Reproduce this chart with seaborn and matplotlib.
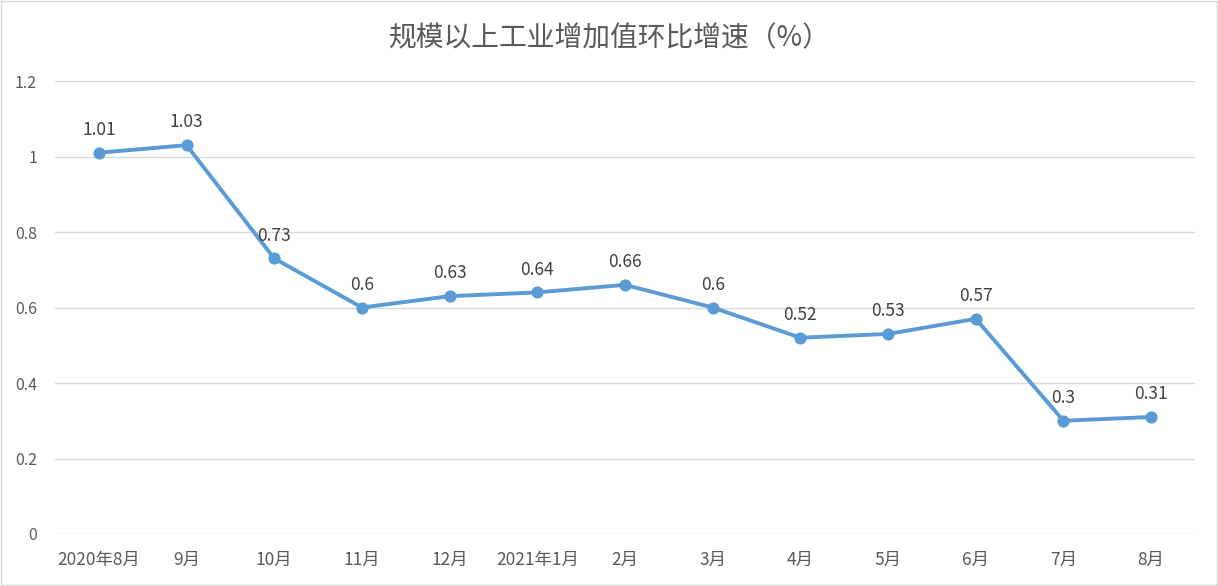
import matplotlib
matplotlib.use("Agg")
import matplotlib.pyplot as plt
import seaborn as sns
import pandas as pd

months = ["2020年8月", "9月", "10月", "11月", "12月", "2021年1月", "2月", "3月", "4月", "5月", "6月", "7月", "8月"]
values = [1.01, 1.03, 0.73, 0.6, 0.63, 0.64, 0.66, 0.6, 0.52, 0.53, 0.57, 0.3, 0.31]
yticks = [0, 0.2, 0.4, 0.6, 0.8, 1.0, 1.2]
ytick_labels = ["0", "0.2", "0.4", "0.6", "0.8", "1", "1.2"]
title = "规模以上工业增加值环比增速（%）"

sns.set_style("white")
plt.rcParams['font.family'] = ['Noto Sans CJK SC', 'DejaVu Sans']

df = pd.DataFrame({"x": range(len(months)), "v": values})

fig = plt.figure(figsize=(12.18, 5.86), dpi=100)
ax = fig.add_axes([55/1218, 1 - 534/586, (1195-55)/1218, (534-81)/586])

line_color = "#5B9BD5"
sns.lineplot(data=df, x="x", y="v", ax=ax, color=line_color, linewidth=2.8,
             marker="o", markersize=8, markeredgecolor=line_color, zorder=3)

for i, v in enumerate(values):
    txt = f"{v:g}"
    ax.annotate(txt, (i, v), xytext=(0, 10), textcoords="offset points",
                ha="center", va="bottom", fontsize=12.5, color="#404040")

ax.set_xlim(-0.5, len(months) - 0.5)
ax.set_ylim(0, 1.2)
ax.set_yticks(yticks)
ax.set_yticklabels(ytick_labels, fontsize=11.5, color="#595959")
ax.set_xticks(range(len(months)))
ax.set_xticklabels(months, fontsize=12.5, color="#595959")
ax.tick_params(axis="x", length=0, pad=12)
ax.tick_params(axis="y", length=0, pad=13)
ax.grid(axis="y", color="#D9D9D9", linewidth=1)
ax.set_axisbelow(True)
for s in ax.spines.values():
    s.set_visible(False)
ax.set_xlabel("")
ax.set_ylabel("")

fig.text(0.5, 1 - 38/586, title, ha="center", va="center", fontsize=20, color="#595959")

border = plt.Rectangle((0.001, 0.001), 0.998, 0.997, transform=fig.transFigure,
                       fill=False, edgecolor="#D9D9D9", linewidth=1)
fig.patches.append(border)

fig.savefig("out.png", dpi=100)
